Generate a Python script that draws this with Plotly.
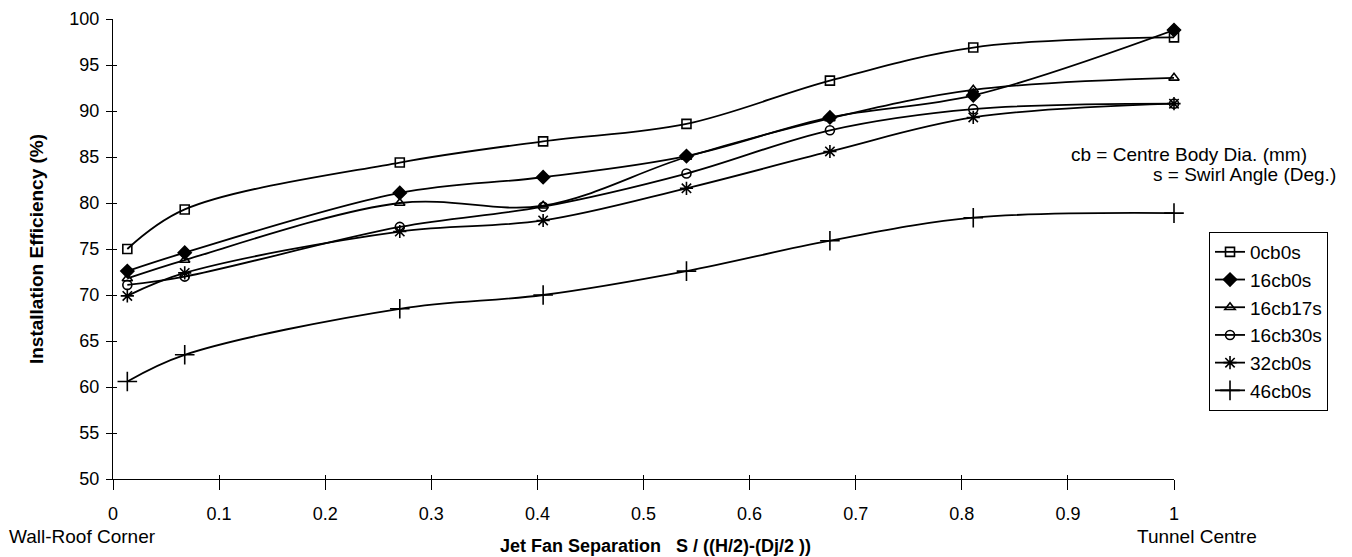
import plotly.graph_objects as go

# Data
x_sep = [0.0135, 0.0676, 0.2703, 0.4054, 0.5405, 0.6757, 0.8108, 1.0]
series_names = ["0cb0s", "16cb0s", "16cb17s", "16cb30s", "32cb0s", "46cb0s"]
eff_0cb0s = [75.0, 79.3, 84.4, 86.7, 88.6, 93.3, 96.9, 98.0]
eff_16cb0s = [72.6, 74.6, 81.1, 82.8, 85.1, 89.3, 91.7, 98.8]
eff_16cb17s = [71.8, 73.8, 80.0, 79.7, 85.0, 89.2, 92.3, 93.6]
eff_16cb30s = [71.1, 72.0, 77.4, 79.6, 83.2, 87.9, 90.2, 90.8]
eff_32cb0s = [69.9, 72.4, 76.9, 78.1, 81.6, 85.6, 89.3, 90.8]
eff_46cb0s = [60.6, 63.5, 68.5, 70.0, 72.6, 75.9, 78.4, 78.9]
y_ticks = [50, 55, 60, 65, 70, 75, 80, 85, 90, 95, 100]
x_ticks = [0, 0.1, 0.2, 0.3, 0.4, 0.5, 0.6, 0.7, 0.8, 0.9, 1]
x_tick_text = ["0", "0.1", "0.2", "0.3", "0.4", "0.5", "0.6", "0.7", "0.8", "0.9", "1"]

all_series = [eff_0cb0s, eff_16cb0s, eff_16cb17s, eff_16cb30s, eff_32cb0s, eff_46cb0s]
symbols = ["square-open", "diamond", "triangle-up-open", "circle-open", "asterisk-open", "cross-thin-open"]
sizes = [9, 10, 9, 9, 11, 14]

FONT = "Liberation Sans, Arial, sans-serif"

fig = go.Figure()
for name, vals, sym, sz in zip(series_names, all_series, symbols, sizes):
    fig.add_trace(go.Scatter(
        x=x_sep, y=vals, name=name, mode="lines+markers",
        legendgroup=name, cliponaxis=False,
        line=dict(color="black", width=1.8, shape="spline", smoothing=1.0),
        marker=dict(symbol=sym, size=sz, color="black",
                    line=dict(color="black", width=1.6)),
    ))

# empty helper trace so the overlay axes (inner half of crossing ticks) are drawn
fig.add_trace(go.Scatter(x=[], y=[], xaxis="x2", yaxis="y2", showlegend=False,
                         hoverinfo="skip"))

fig.update_layout(
    width=1352, height=557,
    paper_bgcolor="white", plot_bgcolor="white",
    margin=dict(l=113, r=178, t=19, b=78, autoexpand=False),
    font=dict(family=FONT, size=18, color="black"),
    showlegend=True,
    legend=dict(
        x=1.033, y=0.537, xanchor="left", yanchor="top",
        bordercolor="black", borderwidth=1, bgcolor="white",
        font=dict(family=FONT, size=19, color="black"),
        tracegroupgap=4.5, traceorder="normal",
    ),
    xaxis=dict(
        range=[0, 1], tickvals=x_ticks, ticktext=x_tick_text,
        showgrid=False, zeroline=False, showline=True, linecolor="black", linewidth=1.3,
        ticks="outside", ticklen=10, tickcolor="black", tickwidth=1.2,
        ticklabelstandoff=8,
        tickfont=dict(family=FONT, size=18, color="black"),
    ),
    yaxis=dict(
        range=[50, 100], tickvals=y_ticks,
        showgrid=False, zeroline=False, showline=True, linecolor="black", linewidth=1.3,
        ticks="outside", ticklen=6, tickcolor="black", tickwidth=1.2,
        ticklabelstandoff=3,
        tickfont=dict(family=FONT, size=18, color="black"),
        title=dict(text="<b>Installation Efficiency (%)</b>", standoff=20,
                   font=dict(family=FONT, size=19, color="black")),
    ),
    xaxis2=dict(
        overlaying="x", anchor="y", side="bottom", range=[0, 1], tickvals=x_ticks,
        ticks="inside", ticklen=4, tickcolor="black", tickwidth=1.2,
        showticklabels=False, showline=False, showgrid=False, zeroline=False,
    ),
    yaxis2=dict(
        overlaying="y", anchor="x", side="left", range=[50, 100], tickvals=y_ticks,
        ticks="inside", ticklen=4, tickcolor="black", tickwidth=1.2,
        showticklabels=False, showline=False, showgrid=False, zeroline=False,
    ),
    annotations=[
        dict(text="<b>Jet Fan Separation   S / ((H/2)-(Dj/2 ))</b>", xref="paper", yref="paper",
             x=0.511, y=-0.146, xanchor="center", yanchor="middle", showarrow=False,
             font=dict(family=FONT, size=18, color="black")),
        dict(text="Wall-Roof Corner", xref="paper", yref="paper",
             x=-0.1, y=-0.126, xanchor="left", yanchor="middle", showarrow=False,
             font=dict(family=FONT, size=19, color="black")),
        dict(text="Tunnel Centre", xref="paper", yref="paper",
             x=1.0217, y=-0.126, xanchor="center", yanchor="middle", showarrow=False,
             font=dict(family=FONT, size=19, color="black")),
        dict(text="cb = Centre Body Dia. (mm)", xref="paper", yref="paper",
             x=1.0141, y=0.7065, xanchor="center", yanchor="middle", showarrow=False,
             font=dict(family=FONT, size=19, color="black")),
        dict(text="s = Swirl Angle (Deg.)", xref="paper", yref="paper",
             x=1.066, y=0.663, xanchor="center", yanchor="middle", showarrow=False,
             font=dict(family=FONT, size=19, color="black")),
    ],
)

fig.write_html("out.html")
